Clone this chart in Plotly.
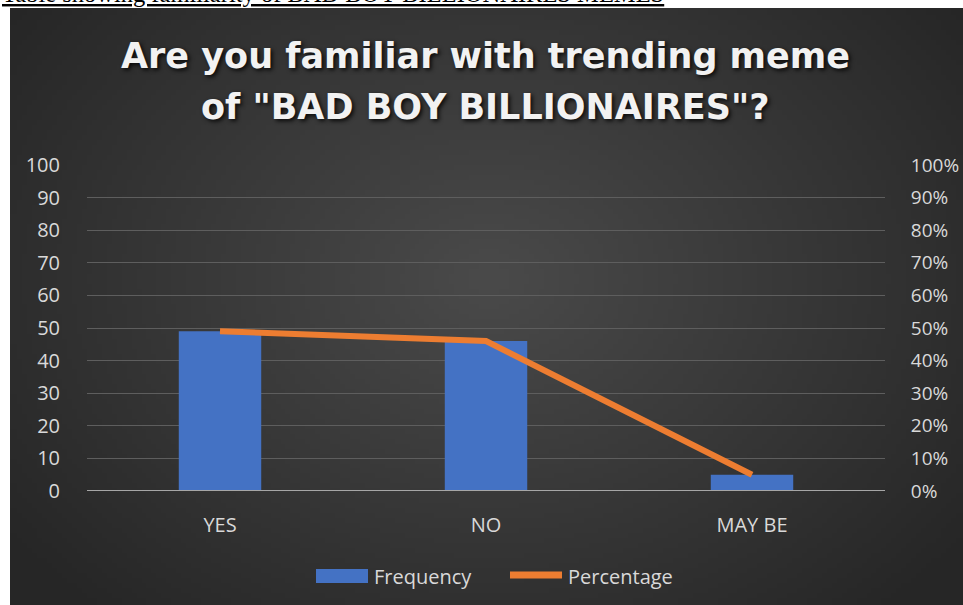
import base64
import struct
import zlib

import plotly.graph_objects as go

# Survey responses
categories = ["YES", "NO", "MAY BE"]
frequency = [49, 46, 5]
percentage = [0.49, 0.46, 0.05]

left_ticks = list(range(0, 101, 10))
right_ticks = [i / 10 for i in range(11)]

title_lines = ["Are you familiar with trending meme", 'of "BAD BOY BILLIONAIRES"?']
caption = "Table showing familiarity of BAD BOY BILLIONAIRES MEMES"

BLUE = "#4472C4"
ORANGE = "#ED7D31"
TEXT = "#d9d9d9"

W, H = 963, 605
L, R, T, B = 87, 78, 165, 114
PW, PH = W - L - R, H - T - B


def px_x(x):
    return (x - L) / PW


def px_y(y):
    return (H - B - y) / PH


def radial_png(w, h):
    """Dark radial backdrop, lighter toward the middle."""
    rows = []
    cx, cy = w * 0.5, h * 0.45
    for j in range(h):
        row = bytearray([0])
        for i in range(w):
            dx = (i - cx) / (w * 0.62)
            dy = (j - cy) / (h * 0.75)
            d = min(1.0, (dx * dx + dy * dy) ** 0.5)
            v = int(round(74 - (74 - 38) * d))
            row += bytes([v, v, v])
        rows.append(bytes(row))
    raw = b"".join(rows)

    def chunk(tag, data):
        c = struct.pack(">I", len(data)) + tag + data
        return c + struct.pack(">I", zlib.crc32(tag + data) & 0xFFFFFFFF)

    png = b"\x89PNG\r\n\x1a\n"
    png += chunk(b"IHDR", struct.pack(">IIBBBBB", w, h, 8, 2, 0, 0, 0))
    png += chunk(b"IDAT", zlib.compress(raw, 9))
    png += chunk(b"IEND", b"")
    return "data:image/png;base64," + base64.b64encode(png).decode()


fig = go.Figure()

fig.add_trace(go.Bar(
    x=categories, y=frequency, name="Frequency",
    marker=dict(color=BLUE, line=dict(width=0)),
    width=0.31, yaxis="y",
))
fig.add_trace(go.Scatter(
    x=categories, y=percentage, name="Percentage", mode="lines",
    line=dict(color=ORANGE, width=6),
    yaxis="y2",
))

tick_font = dict(family="Open Sans, sans-serif", size=20, color=TEXT)
right_font = dict(family="Open Sans, sans-serif", size=19, color=TEXT)
title_font = dict(family="DejaVu Sans, sans-serif", size=35, color="#f2f2f2",
                  weight="bold", shadow="2px 2px 4px rgba(0,0,0,0.85)")

annotations = [
    dict(text=title_lines[0], xref="paper", yref="paper",
         x=px_x(485), xanchor="center", y=px_y(56), yanchor="middle",
         showarrow=False, font=title_font),
    dict(text=title_lines[1], xref="paper", yref="paper",
         x=px_x(485), xanchor="center", y=px_y(107), yanchor="middle",
         showarrow=False, font=title_font),
    dict(text="<u>" + caption + "</u>", xref="paper", yref="paper",
         x=px_x(0), xanchor="left", y=px_y(-6), yanchor="middle",
         showarrow=False,
         font=dict(family="Liberation Serif, serif", size=24.5, color="black")),
    # legend labels
    dict(text="Frequency", xref="paper", yref="paper",
         x=px_x(372), xanchor="left", y=px_y(576), yanchor="middle",
         showarrow=False, font=tick_font),
    dict(text="Percentage", xref="paper", yref="paper",
         x=px_x(566), xanchor="left", y=px_y(576), yanchor="middle",
         showarrow=False, font=tick_font),
]

shapes = [
    # category axis baseline
    dict(type="line", xref="paper", yref="y", x0=0, x1=1, y0=0, y1=0,
         line=dict(color="#a6a6a6", width=2)),
    # legend swatches
    dict(type="rect", xref="paper", yref="paper",
         x0=px_x(316), x1=px_x(368), y0=px_y(583), y1=px_y(569),
         fillcolor=BLUE, line=dict(width=0)),
    dict(type="line", xref="paper", yref="paper",
         x0=px_x(510), x1=px_x(562), y0=px_y(575), y1=px_y(575),
         line=dict(color=ORANGE, width=7)),
]

fig.update_layout(
    width=W, height=H,
    margin=dict(l=L, r=R, t=T, b=B, autoexpand=False),
    paper_bgcolor="white",
    plot_bgcolor="rgba(0,0,0,0)",
    showlegend=False,
    xaxis=dict(
        automargin=False,
        showgrid=False, zeroline=False, showline=False,
        ticks="outside", ticklen=16, tickcolor="rgba(0,0,0,0)",
        tickfont=tick_font,
    ),
    yaxis=dict(
        automargin=False,
        range=[0, 100], tickvals=left_ticks,
        showgrid=True, gridcolor="#5e5e5e", gridwidth=1,
        zeroline=False, showline=False,
        ticks="outside", ticklen=22, tickcolor="rgba(0,0,0,0)",
        tickfont=tick_font,
    ),
    yaxis2=dict(
        automargin=False,
        range=[0, 1], tickvals=right_ticks, tickformat=".0%",
        overlaying="y", side="right",
        showgrid=False, zeroline=False, showline=False,
        ticks="outside", ticklen=21, tickcolor="rgba(0,0,0,0)",
        tickfont=right_font,
    ),
    images=[dict(
        source=radial_png(192, 120),
        xref="paper", yref="paper",
        x=px_x(10), y=px_y(8),
        sizex=px_x(W) - px_x(10), sizey=px_y(8) - px_y(H),
        xanchor="left", yanchor="top", sizing="stretch", layer="below",
    )],
    shapes=shapes,
    annotations=annotations,
)

fig.write_html("out.html")
